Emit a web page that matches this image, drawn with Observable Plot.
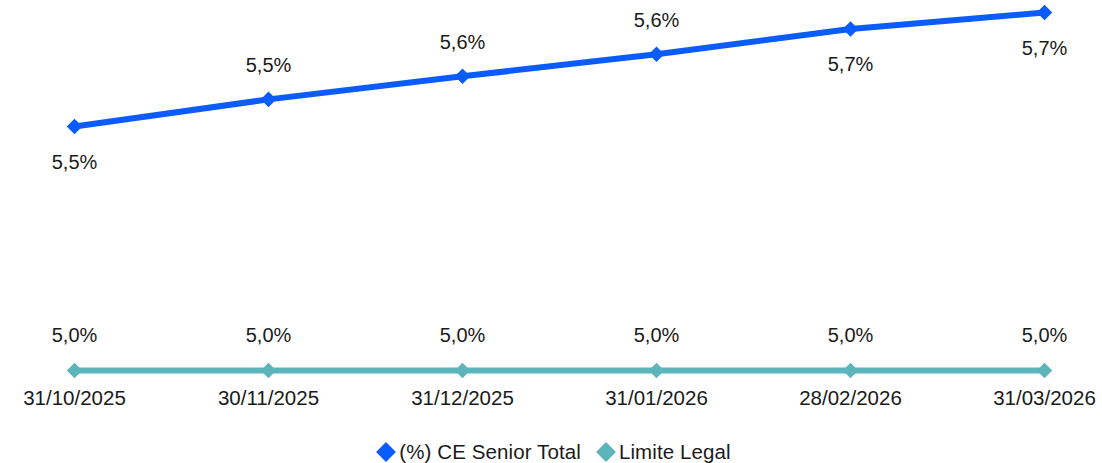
<!DOCTYPE html>
<html>
<head>
<meta charset="utf-8">
<script src="https://cdn.jsdelivr.net/npm/d3@7"></script>
<script src="https://cdn.jsdelivr.net/npm/@observablehq/plot@0.6"></script>
<style>
  html, body { margin: 0; padding: 0; background: #fff; }
  body { width: 1102px; height: 463px; overflow: hidden; font-family: "Liberation Sans", Arial, sans-serif; }
  #legend { display: flex; justify-content: center; align-items: center; height: 44px; font-size: 20.5px; letter-spacing: 0.1px; color: #1a1a1a; margin-left: 4px; }
  .item { display: flex; align-items: center; margin: 0 7px; }
  .item svg { margin-right: 2px; }
</style>
</head>
<body>
<div id="chart" style="height:430px"></div>
<div id="legend"></div>
<script>
const dates = ["31/10/2025", "30/11/2025", "31/12/2025", "31/01/2026", "28/02/2026", "31/03/2026"];
const ceSenior = [5.486, 5.540, 5.586, 5.630, 5.680, 5.713];
const limiteLegal = [5.0, 5.0, 5.0, 5.0, 5.0, 5.0];
const seriesNames = ["(%) CE Senior Total", "Limite Legal"];
const colors = ["#0a5cff", "#5db5bb"];

const blue = dates.map((d, i) => ({date: d, value: ceSenior[i], i}));
const teal = dates.map((d, i) => ({date: d, value: limiteLegal[i], i}));
const fmt = v => d3.format(".1f")(v).replace(".", ",") + "%";
const aboveIdx = new Set([1, 2, 3]);

const chart = Plot.plot({
  width: 1102,
  height: 430,
  marginLeft: 72,
  marginRight: 57,
  marginTop: 12,
  marginBottom: 60,
  style: {fontFamily: "Liberation Sans, Arial, sans-serif", color: "#1a1a1a", background: "#fff"},
  x: {type: "point", domain: dates, padding: 0, axis: null},
  y: {domain: [5.0, 5.713], axis: null},
  marks: [
    Plot.axisX({tickSize: 0, tickPadding: 20, fontSize: 20.5, fill: "#1a1a1a", label: null}),
    Plot.line(teal, {x: "date", y: "value", stroke: colors[1], strokeWidth: 6}),
    Plot.line(blue, {x: "date", y: "value", stroke: colors[0], strokeWidth: 6}),
    Plot.dot(teal, {x: "date", y: "value", symbol: "diamond2", r: 7, fill: colors[1], stroke: "none"}),
    Plot.dot(blue, {x: "date", y: "value", symbol: "diamond2", r: 7, fill: colors[0], stroke: "none"}),
    Plot.text(teal, {x: "date", y: "value", text: d => fmt(d.value), dy: -35, fontSize: 20, fill: "#1a1a1a"}),
    Plot.text(blue.filter(d => aboveIdx.has(d.i)), {x: "date", y: "value", text: d => fmt(d.value), dy: -34, fontSize: 20, fill: "#1a1a1a"}),
    Plot.text(blue.filter(d => !aboveIdx.has(d.i)), {x: "date", y: "value", text: d => fmt(d.value), dy: 36, fontSize: 20, fill: "#1a1a1a"})
  ]
});
document.getElementById("chart").appendChild(chart);

const legend = document.getElementById("legend");
seriesNames.forEach((name, i) => {
  const item = document.createElement("div");
  item.className = "item";
  item.innerHTML = `<svg width="22" height="22" viewBox="-11 -11 22 22"><rect x="-7" y="-7" width="14" height="14" transform="rotate(45)" fill="${colors[i]}"></rect></svg><span>${name}</span>`;
  legend.appendChild(item);
});
</script>
</body>
</html>
